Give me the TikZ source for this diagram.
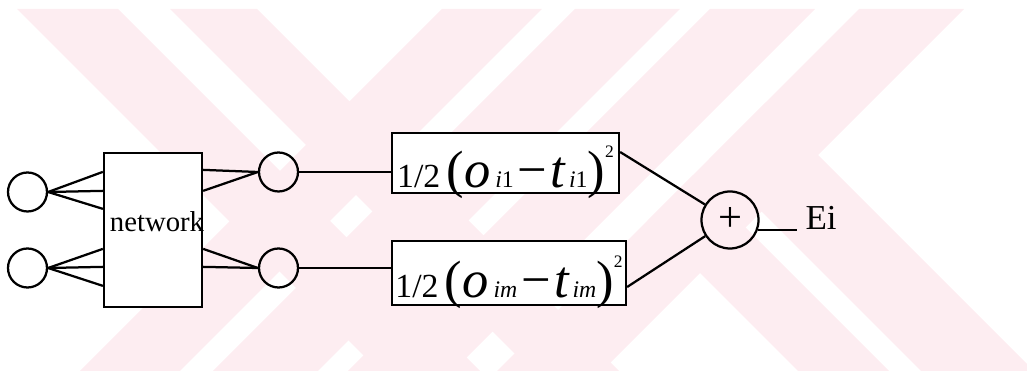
\documentclass[tikz,border=0pt]{standalone}
\usepackage{fontspec}
\setmainfont{Liberation Serif}
\usetikzlibrary{calc}
\definecolor{wmpink}{RGB}{253,237,241}
\tikzset{
  unit/.style={draw,circle,line width=0.9pt,inner sep=0pt,minimum size=15.6pt},
  netbox/.style={draw,fill=white,line width=0.9pt,minimum width=39.2pt,minimum height=61.6pt,inner sep=0pt},
  errbox/.style={draw,fill=white,line width=0.9pt,inner xsep=0.5pt,inner ysep=0pt,text height=20pt,text depth=0pt},
  sumnode/.style={draw,circle,line width=0.9pt,inner sep=0pt,minimum size=22.8pt,font=\fontsize{17}{17}\selectfont},
  wire/.style={line width=0.9pt}
}
\newcommand{\bigfs}{\fontsize{21}{21}\selectfont}
\newcommand{\subfs}{\fontsize{9.5}{9.5}\selectfont}
\newcommand{\errterm}[1]{{\fontsize{13.5}{13.5}\selectfont 1/2}\hspace{2.5pt}{\bigfs(\textit{o}}\hspace{2pt}{\subfs#1}\hspace{1.5pt}{\bigfs −\hspace{1.5pt}\textit{t}}\hspace{1pt}{\subfs#1}{\bigfs)}\raisebox{12pt}{\fontsize{7}{7}\selectfont 2}}
\begin{document}
\begin{tikzpicture}[x=0.4pt,y=-0.4pt]
  \useasboundingbox (0,0) rectangle (1027,371);
  \begin{scope}
    \clip (0,9) rectangle (1027,371);
    \foreach \a/\b in {451/551,584/689,719/824,868/973}
      \fill[wmpink] (\a-9,9) -- (\b-9,9) -- (\b-371,371) -- (\a-371,371) -- cycle;
    \foreach \a/\b in {8/109,161/248}
      \fill[wmpink] (\a+9,9) -- (\b+9,9) -- (\b+371,371) -- (\a+371,371) -- cycle;
    \foreach \a/\b in {427/518,550/663}
      \fill[wmpink] ({(\a+868)/2},{(868-\a)/2}) -- ({(\b+868)/2},{(868-\b)/2}) -- (\b+371,371) -- (\a+371,371) -- cycle;
  \end{scope}
  \node[unit] (in1) at (27.5,192) {};
  \node[unit] (in2) at (27.5,268) {};
  \node[netbox] (net) at (153,230) {};
  \node[anchor=base] (netlbl) at (157,232) {\fontsize{11.5}{11.5}\selectfont network};
  \node[unit] (h1) at (278.5,172) {};
  \node[unit] (h2) at (278.5,268) {};
  \node[errbox,minimum width=90.8pt,minimum height=24pt] (sq1) at (505.5,163) {\errterm{\textit{i}1}};
  \node[errbox,minimum width=93.6pt,minimum height=25.6pt] (sq2) at (509,273) {\errterm{\textit{im}}};
  \node[sumnode] (sum) at (730,220) {+};
  \node[anchor=base west,inner sep=0pt] (ei) at (805,230) {\fontsize{14}{14}\selectfont Ei};
  \foreach \dy in {20,39,57} \draw[wire] (in1.east) -- ($(net.north west)+(0,\dy)$);
  \foreach \dy in {97,115,134} \draw[wire] (in2.east) -- ($(net.north west)+(0,\dy)$);
  \foreach \dy in {18,39} \draw[wire] ($(net.north east)+(0,\dy)$) -- (h1.west);
  \foreach \dy in {97,115} \draw[wire] ($(net.north east)+(0,\dy)$) -- (h2.west);
  \draw[wire] (h1.east) -- (h1 -| sq1.west);
  \draw[wire] (h2.east) -- (h2 -| sq2.west);
  \draw[wire] ($(sq1.east)+(0,-11)$) -- (sum);
  \draw[wire] ($(sq2.east)+(0,14)$) -- (sum);
  \coordinate (eiend) at ($(sum.-19 -| ei.base west)+(-8,0)$);
  \draw[wire] (sum.-19) -- (eiend);
\end{tikzpicture}
\end{document}
